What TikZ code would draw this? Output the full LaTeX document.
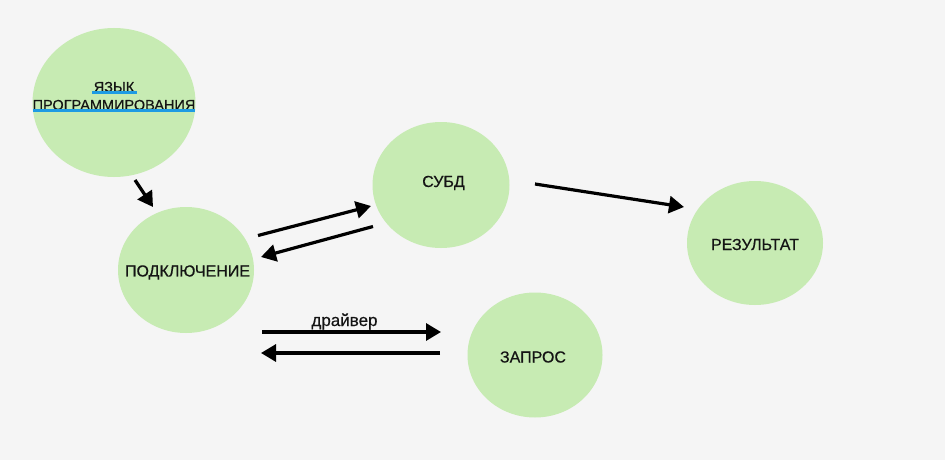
\documentclass[tikz,border=0pt]{standalone}
\usepackage{fontspec}
\setmainfont{Liberation Sans}
\newfontfamily\medfont{Liberation Sans}[FakeBold=0.5]
\usetikzlibrary{shapes.geometric,arrows.meta}
\definecolor{bg}{HTML}{F5F5F5}
\definecolor{blobfill}{HTML}{C7EBB3}
\definecolor{spell}{HTML}{1E9BE3}
\definecolor{ink}{HTML}{141414}
\tikzset{
  blob/.style={ellipse, fill=blobfill, inner sep=0pt},
  lbl/.style={inner sep=0pt, text=ink, font=\medfont\fontsize{16}{18}\selectfont, align=center},
  smalllbl/.style={inner sep=0pt, text=ink, font=\medfont\fontsize{14.5}{18}\selectfont, align=center},
  drvlbl/.style={inner sep=0pt, text=ink, font=\medfont\fontsize{17}{18}\selectfont, anchor=base},
  conn/.style={line width=3.2pt, -{Triangle[length=15pt,width=17pt]}},
  spellline/.style={spell, line width=2.2pt}
}
\begin{document}
\begin{tikzpicture}[x=1pt,y=-1pt]
\fill[bg] (0,0) rectangle (945,460);
\useasboundingbox (0,0) rectangle (945,460);

\node[blob, minimum width=163pt, minimum height=149pt] (lang) at (114,102.5) {};
\node[smalllbl] (langtxt) at (114,96) {ЯЗЫК\\ПРОГРАММИРОВАНИЯ};
\draw[spellline] (92,92.5) -- (137,92.5);
\draw[spellline] (33,110.5) -- (195,110.5);

\node[blob, minimum width=136pt, minimum height=126pt] (conn) at (186,270) {};
\node[lbl] (conntxt) at (187.5,272.5) {ПОДКЛЮЧЕНИЕ};
\node[blob, minimum width=137pt, minimum height=126pt] (dbms) at (441,185) {};
\node[lbl] (dbmstxt) at (443.5,183) {СУБД};
\node[blob, minimum width=136pt, minimum height=124pt] (res) at (755,243) {};
\node[lbl] (restxt) at (755,244.5) {РЕЗУЛЬТАТ};
\node[blob, minimum width=135pt, minimum height=125pt] (query) at (535,355) {};
\node[lbl] (querytxt) at (533,357) {ЗАПРОС};

\coordinate (a1s) at (135,180);
\coordinate (a1e) at (153,207);
\coordinate (a2s) at (258,235.5);
\coordinate (a2e) at (371,206);
\coordinate (a3s) at (373,226.5);
\coordinate (a3e) at (261,257);
\coordinate (a4s) at (535,184);
\coordinate (a4e) at (684,207);
\coordinate (a5s) at (262,332);
\coordinate (a5e) at (441,332);
\coordinate (a6s) at (440,353);
\coordinate (a6e) at (261,353);

\draw[conn] (a1s) -- (a1e);
\draw[conn] (a2s) -- (a2e);
\draw[conn] (a3s) -- (a3e);
\draw[conn] (a4s) -- (a4e);
\draw[conn] (a5s) -- (a5e);
\node[drvlbl] (drv) at (344.5,326) {драйвер};
\draw[conn] (a6s) -- (a6e);
\end{tikzpicture}
\end{document}
